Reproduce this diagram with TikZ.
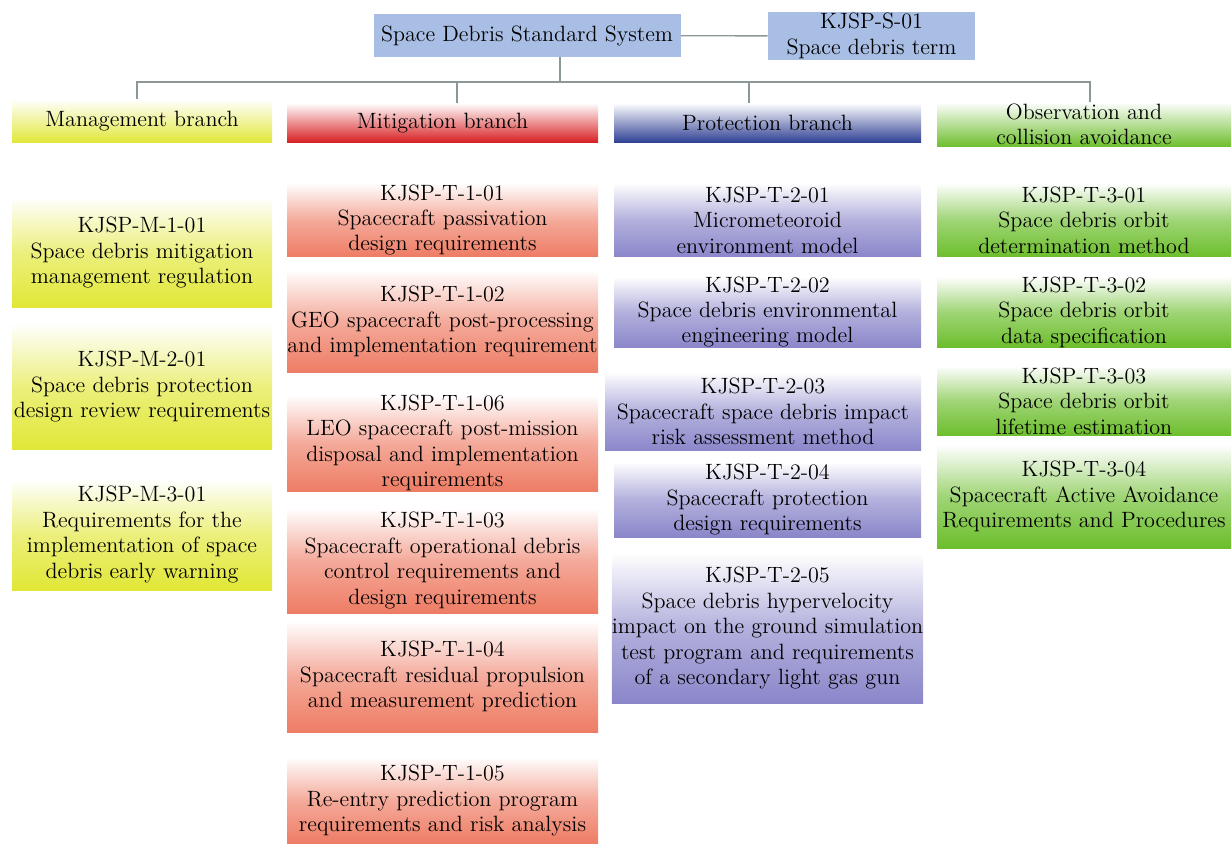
\documentclass[tikz,border=0pt]{standalone}
\usetikzlibrary{positioning}
\definecolor{RootBlue}{HTML}{A9BEE4}
\definecolor{Lemon}{HTML}{E1E736}
\definecolor{Crimson}{HTML}{D71C1E}
\definecolor{Salmon}{HTML}{EE7C64}
\definecolor{Navy}{HTML}{2C3D92}
\definecolor{Lavender}{HTML}{8A86CA}
\definecolor{Leaf}{HTML}{6CBE2C}
\definecolor{Wire}{HTML}{8C9898}
\tikzset{
  box/.style 2 args={rectangle, align=center, inner sep=0pt,
    minimum width=#1*0.02cm, minimum height=#2*0.02cm,
    font=\fontsize{12.6}{14.5}\selectfont},
  fade/.style={top color=white, bottom color=#1},
  soft/.style={top color=white, bottom color=#1, middle color=#1!65},
  link/.style={draw=Wire, line width=0.8pt}
}
\begin{document}
\begin{tikzpicture}[x=0.02cm,y=-0.02cm]
  \useasboundingbox (0,0) rectangle (1231,844);
  % root of the system
  \node[box={307}{43}, fill=RootBlue] (root) at (527,35.5) {Space Debris Standard System};
  \node[box={207}{48}, fill=RootBlue] (term) at (871.5,36) {KJSP-S-01\\Space debris term};
  % branch headers
  \node[box={260}{44}, fade=Lemon] (mgmthd) at (142,121) {Management branch};
  \node[box={311}{40}, fade=Crimson] (mithd) at (442.5,123) {Mitigation branch};
  \node[box={307}{40}, fade=Navy] (prothd) at (767.5,123) {Protection branch};
  \node[box={294}{45}, fade=Leaf] (obshd) at (1084,124.5) {Observation and\\collision avoidance};
  % connectors
  \coordinate (bus) at (560,82);
  \draw[link] (root) -- (term);
  \draw[link] (root.south -| bus) -- (bus);
  \foreach \hd/\dx in {mgmthd/-5,mithd/14.5,prothd/-18.5,obshd/6}
    \draw[link] ([xshift=\dx*0.02cm]\hd.north) |- (bus);
  % management branch
  \node[box={260}{111}, soft=Lemon] (m1) at (142,252.5) {KJSP-M-1-01\\Space debris mitigation\\management regulation};
  \node[box={260}{127}, soft=Lemon] (m2) at (142,386.5) {KJSP-M-2-01\\Space debris protection\\design review requirements};
  \node[box={260}{111}, soft=Lemon] (m3) at (142,534.5) {KJSP-M-3-01\\Requirements for the\\implementation of space\\debris early warning};
  % mitigation branch
  \node[box={311}{74}, soft=Salmon] (t101) at (442.5,220) {KJSP-T-1-01\\Spacecraft passivation\\design requirements};
  \node[box={311}{103}, soft=Salmon] (t102) at (442.5,321.5) {KJSP-T-1-02\\GEO spacecraft post-processing\\and implementation requirement};
  \node[box={311}{96}, soft=Salmon] (t106) at (442.5,443) {KJSP-T-1-06\\LEO spacecraft post-mission\\disposal and implementation\\requirements};
  \node[box={311}{105}, soft=Salmon] (t103) at (442.5,560.5) {KJSP-T-1-03\\Spacecraft operational debris\\control requirements and\\design requirements};
  \node[box={311}{111}, soft=Salmon] (t104) at (442.5,676.5) {KJSP-T-1-04\\Spacecraft residual propulsion\\and measurement prediction};
  \node[box={311}{87}, soft=Salmon] (t105) at (442.5,800.5) {KJSP-T-1-05\\Re-entry prediction program\\requirements and risk analysis};
  % protection branch
  \node[box={307}{74}, soft=Lavender] (t201) at (767.5,220) {KJSP-T-2-01\\Micrometeoroid\\environment model};
  \node[box={307}{68}, soft=Lavender] (t202) at (767.5,312) {KJSP-T-2-02\\Space debris environmental\\engineering model};
  \node[box={316}{79}, soft=Lavender] (t203) at (763,411.5) {KJSP-T-2-03\\Spacecraft space debris impact\\risk assessment method};
  \node[box={307}{75}, soft=Lavender] (t204) at (767.5,499.5) {KJSP-T-2-04\\Spacecraft protection\\design requirements};
  \node[box={307}{150}, soft=Lavender] (t205) at (767.5,628) {KJSP-T-2-05\\Space debris hypervelocity\\impact on the ground simulation\\test program and requirements\\of a secondary light gas gun};
  % observation branch
  \node[box={294}{74}, soft=Leaf] (t301) at (1084,220) {KJSP-T-3-01\\Space debris orbit\\determination method};
  \node[box={294}{68}, soft=Leaf] (t302) at (1084,312) {KJSP-T-3-02\\Space debris orbit\\data specification};
  \node[box={294}{70}, soft=Leaf] (t303) at (1084,401) {KJSP-T-3-03\\Space debris orbit\\lifetime estimation};
  \node[box={294}{103}, soft=Leaf] (t304) at (1084,496.5) {KJSP-T-3-04\\Spacecraft Active Avoidance\\Requirements and Procedures};
\end{tikzpicture}
\end{document}
